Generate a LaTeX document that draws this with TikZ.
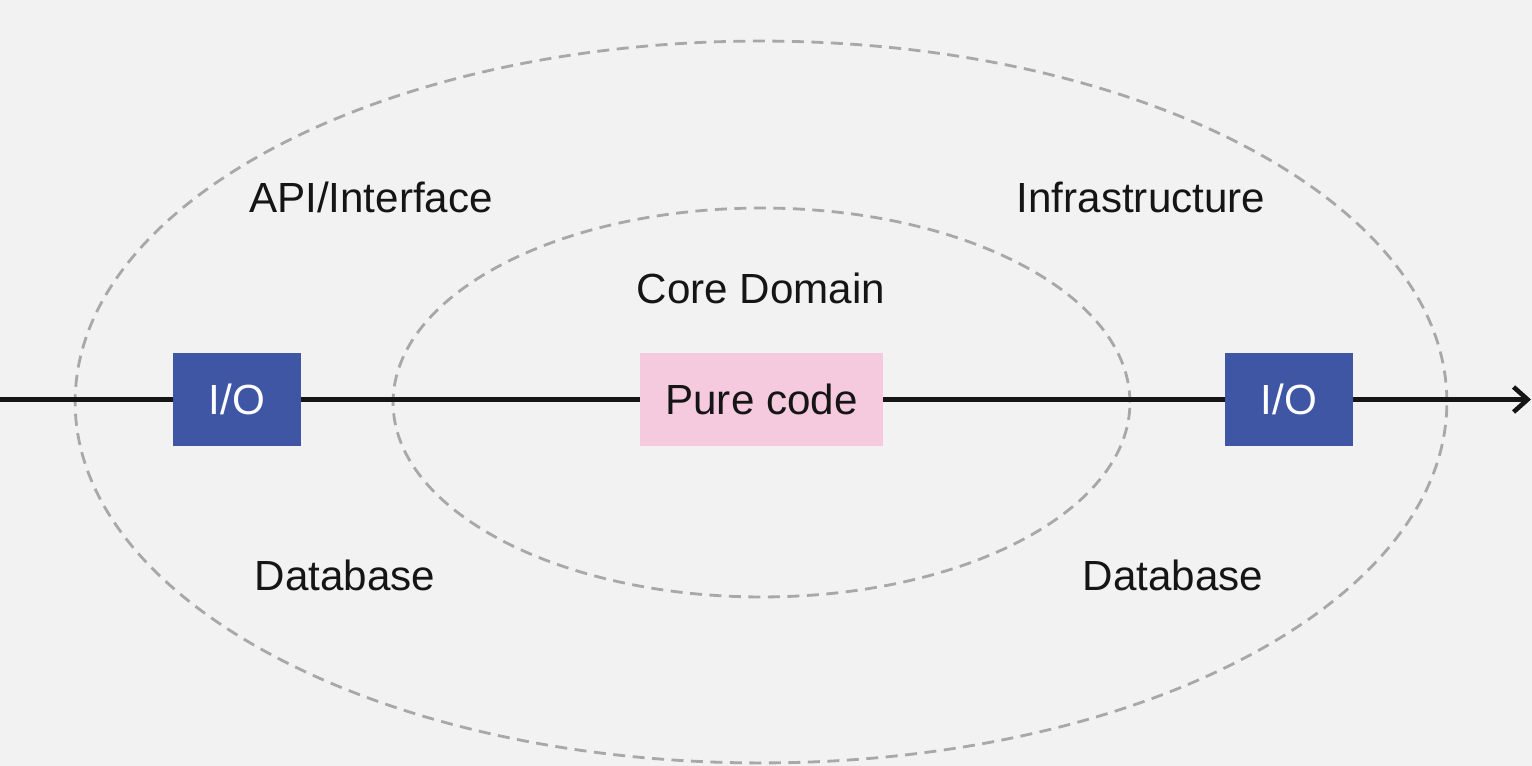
\documentclass[tikz,border=0pt]{standalone}
\usepackage{fontspec}
\setmainfont{Liberation Sans}
\usetikzlibrary{arrows.meta}

\definecolor{bgray}{HTML}{F2F2F2}
\definecolor{ioblue}{HTML}{3F56A5}
\definecolor{purepink}{HTML}{F5CADF}
\definecolor{ringgray}{HTML}{A8A8A8}
\definecolor{flowblack}{HTML}{151515}

\tikzset{
    ring/.style={draw=ringgray, line width=1.6pt, dash pattern=on 0.24cm off 0.15cm},
    iobox/.style={fill=ioblue, text=white, minimum width=2.56cm, minimum height=1.86cm, inner sep=0pt},
    purebox/.style={fill=purepink, text=flowblack, minimum width=4.86cm, minimum height=1.86cm, inner sep=0pt},
    layer/.style={text=flowblack},
    flow/.style={draw=flowblack, line width=2.6pt}
}

\begin{document}
\begin{tikzpicture}[x=0.02cm, y=-0.02cm, font=\fontsize{24}{28}\selectfont]

        % Background and page size
        \fill[bgray] (0,0) rectangle (1532,766);
        \useasboundingbox (0,0) rectangle (1532,766);

        % Outer and inner rings
        \draw[ring] (761,402) ellipse [x radius=13.72cm, y radius=7.22cm];
        \draw[ring] (761.5,402.5) ellipse [x radius=7.37cm, y radius=3.89cm];

        % Ring labels
        \node[layer] (api) at (371,197) {API/Interface};
        \node[layer] (infra) at (1141,197) {Infrastructure};
        \node[layer] (core) at (761,288) {Core Domain};
        \node[layer] (dbleft) at (345,575) {Database};
        \node[layer] (dbright) at (1173,575) {Database};

        % Boxes on the flow line
        \node[iobox] (ioleft) at (237,399.5) {I/O};
        \node[purebox] (pure) at (761.5,399.5) {Pure code};
        \node[iobox] (ioright) at (1289,399.5) {I/O};

        % Flow line from left to right
        \coordinate (start) at (0,399.5);
        \coordinate (end) at (1531,399.5);
        \draw[flow] (start) -- (ioleft);
        \draw[flow] (ioleft) -- (pure);
        \draw[flow] (pure) -- (ioright);
        \draw[flow, -{Straight Barb[length=0.28cm, width=0.5cm, line width=2.6pt]}] (ioright) -- (end);

\end{tikzpicture}
\end{document}
